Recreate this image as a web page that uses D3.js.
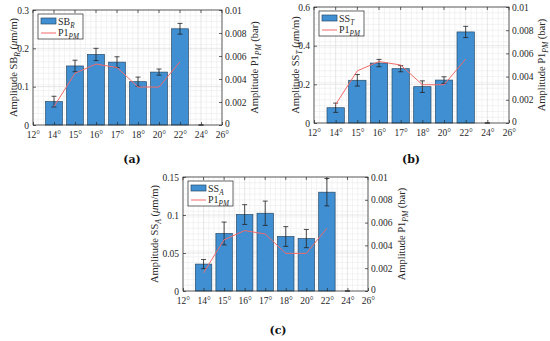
<!DOCTYPE html>
<html><head><meta charset="utf-8">
<script src="https://cdn.jsdelivr.net/npm/d3@7"></script>
<style>body{margin:0;background:#fff}svg{display:block}</style>
</head><body>
<script>
// ---- data ----
const xLabels = ["12°","14°","15°","16°","17°","18°","20°","22°","24°","26°"];
const barCats = ["14°","15°","16°","17°","18°","20°","22°","24°"];
const sbR    = [0.061,0.154,0.184,0.164,0.113,0.138,0.251,0];
const sbRErr = [0.014,0.015,0.016,0.014,0.012,0.008,0.014,0];
const ssT    = [0.079,0.221,0.310,0.281,0.188,0.222,0.471,0];
const ssTErr = [0.024,0.030,0.019,0.016,0.030,0.017,0.029,0];
const ssA    = [0.0354,0.0757,0.1006,0.1023,0.0717,0.069,0.130,0];
const ssAErr = [0.006,0.015,0.013,0.016,0.013,0.012,0.018,0];
const lineCats = ["14°","15°","16°","17°","18°","20°","22°"];
const p1pm = [0.0016,0.0045,0.0053,0.0050,0.0033,0.0033,0.0055];
const ticksA = [0,0.1,0.2,0.3];
const ticksB = [0,0.2,0.4,0.6];
const ticksC = [0,0.05,0.1,0.15];
const ticksR = [0,0.002,0.004,0.006,0.008,0.01];

const W=550,H=341;
const svg=d3.select("body").append("svg").attr("width",W).attr("height",H);
const FONT="'Liberation Serif','DejaVu Serif',serif";
const BLUE="#3f8fd2", RED="#f26b6b";

function richText(sel, parts, size){
  parts.forEach(p=>{
    const t=sel.append("tspan").text(p.t);
    if(p.i) t.attr("font-style","italic");
    if(p.sub){ t.attr("font-size",size*0.72).attr("dy",size*0.3); }
    if(p.after) t.attr("dy",-size*0.3);
  });
}
function fmt(v){ return (v===0)?"0":String(+v.toFixed(4)); }

function panel(o){
  const g=svg.append("g");
  const x=d3.scalePoint().domain(xLabels).range([o.l,o.r]);
  const y=d3.scaleLinear().domain([0,o.ymax]).range([o.b,o.t]);
  const y2=d3.scaleLinear().domain([0,0.01]).range([o.b,o.t]);
  const step=x.step();
  // minor grid
  const gv=[];
  for(let i=0;i<xLabels.length-1;i++) for(let k=1;k<4;k++) gv.push(o.l+step*(i+k/4));
  g.selectAll(".gvm").data(gv).enter().append("line")
   .attr("x1",d=>d).attr("x2",d=>d).attr("y1",o.t).attr("y2",o.b).attr("stroke","#eeeeee").attr("stroke-width",0.7);
  const gh=d3.range(1,20).map(i=>o.ymax*i/20);
  g.selectAll(".ghm").data(gh).enter().append("line")
   .attr("x1",o.l).attr("x2",o.r).attr("y1",d=>y(d)).attr("y2",d=>y(d)).attr("stroke","#eeeeee").attr("stroke-width",0.7);
  // major grid
  g.selectAll(".gv").data(xLabels).enter().append("line")
   .attr("x1",d=>x(d)).attr("x2",d=>x(d)).attr("y1",o.t).attr("y2",o.b).attr("stroke","#dddddd").attr("stroke-width",0.7);
  g.selectAll(".gh").data(o.ticks).enter().append("line")
   .attr("x1",o.l).attr("x2",o.r).attr("y1",d=>y(d)).attr("y2",d=>y(d)).attr("stroke","#dddddd").attr("stroke-width",0.7);
  // bars
  const bw=step*0.8;
  const data=barCats.map((c,i)=>({c,v:o.vals[i],e:o.errs[i]}));
  g.selectAll(".bar").data(data.filter(d=>d.v>0)).enter().append("rect")
   .attr("x",d=>x(d.c)-bw/2).attr("width",bw).attr("y",d=>y(d.v)).attr("height",d=>o.b-y(d.v))
   .attr("fill",BLUE).attr("stroke","#2a4a66").attr("stroke-width",0.7);
  // error bars
  const eb=g.selectAll(".eb").data(data).enter().append("g").attr("stroke","#222").attr("stroke-width",0.8);
  eb.append("line").attr("x1",d=>x(d.c)).attr("x2",d=>x(d.c)).attr("y1",d=>y(d.v-d.e)).attr("y2",d=>y(d.v+d.e));
  eb.append("line").attr("x1",d=>x(d.c)-2.5).attr("x2",d=>x(d.c)+2.5).attr("y1",d=>y(d.v-d.e)).attr("y2",d=>y(d.v-d.e));
  eb.append("line").attr("x1",d=>x(d.c)-2.5).attr("x2",d=>x(d.c)+2.5).attr("y1",d=>y(d.v+d.e)).attr("y2",d=>y(d.v+d.e));
  // line
  const ld=lineCats.map((c,i)=>({c,v:p1pm[i]}));
  g.append("path").datum(ld).attr("fill","none").attr("stroke",RED).attr("stroke-width",1)
   .attr("d",d3.line().x(d=>x(d.c)).y(d=>y2(d.v)));
  // axes box
  g.append("rect").attr("x",o.l).attr("y",o.t).attr("width",o.r-o.l).attr("height",o.b-o.t)
   .attr("fill","none").attr("stroke","#262626").attr("stroke-width",0.7);
  // x axis
  const ax=g.append("g").attr("transform",`translate(0,${o.b})`)
    .call(d3.axisBottom(x).tickSize(-3).tickPadding(6));
  ax.select(".domain").remove();
  ax.selectAll("line").attr("stroke","#262626").attr("stroke-width",0.7);
  ax.selectAll("text").attr("font-family",FONT).attr("font-size",9.5).attr("fill","#262626");
  // top ticks
  g.selectAll(".tt").data(xLabels).enter().append("line")
   .attr("x1",d=>x(d)).attr("x2",d=>x(d)).attr("y1",o.t).attr("y2",o.t+3).attr("stroke","#262626").attr("stroke-width",0.7);
  // left axis
  const ay=g.append("g").attr("transform",`translate(${o.l},0)`)
    .call(d3.axisLeft(y).tickValues(o.ticks).tickFormat(fmt).tickSize(-3).tickPadding(4));
  ay.select(".domain").remove();
  ay.selectAll("line").attr("stroke","#262626").attr("stroke-width",0.7);
  ay.selectAll("text").attr("font-family",FONT).attr("font-size",9.5).attr("fill","#262626");
  // right axis
  const ay2=g.append("g").attr("transform",`translate(${o.r},0)`)
    .call(d3.axisRight(y2).tickValues(ticksR).tickFormat(fmt).tickSize(-3).tickPadding(3));
  ay2.select(".domain").remove();
  ay2.selectAll("line").attr("stroke","#262626").attr("stroke-width",0.7);
  ay2.selectAll("text").attr("font-family",FONT).attr("font-size",9.5).attr("fill","#262626");
  ay2.selectAll(".tick").filter(d=>d===0).select("text").attr("dy","0.2em");
  // y labels
  const cy=(o.t+o.b)/2;
  const yl=g.append("text").attr("transform",`translate(${o.lx},${cy}) rotate(-90)`)
    .attr("text-anchor","middle").attr("font-family",FONT).attr("font-size",10.5).attr("fill","#262626");
  richText(yl,[{t:"Amplitude "+o.name},{t:o.sub,i:true,sub:true},{t:" (",after:true},{t:"μ",i:true},{t:"m/m)"}],10.5);
  const yr=g.append("text").attr("transform",`translate(${o.rx},${cy}) rotate(-90)`)
    .attr("text-anchor","middle").attr("font-family",FONT).attr("font-size",10.5).attr("fill","#262626");
  richText(yr,[{t:"Amplitude P1"},{t:"PM",i:true,sub:true},{t:" (bar)",after:true}],10.5);
  // legend
  const lg=g.append("g").attr("transform",`translate(${o.l+5},${o.t+4})`);
  lg.append("rect").attr("width",45).attr("height",25).attr("fill","#fff").attr("stroke","#262626").attr("stroke-width",0.7);
  lg.append("rect").attr("x",3).attr("y",4).attr("width",15).attr("height",6).attr("fill",BLUE).attr("stroke","#2a4a66").attr("stroke-width",0.7);
  lg.append("line").attr("x1",3).attr("x2",18).attr("y1",19).attr("y2",19).attr("stroke",RED).attr("stroke-width",1);
  const t1=lg.append("text").attr("x",20).attr("y",10.5).attr("font-family",FONT).attr("font-size",10).attr("fill","#262626");
  richText(t1,[{t:o.name},{t:o.sub,i:true,sub:true}],10);
  const t2=lg.append("text").attr("x",20).attr("y",22).attr("font-family",FONT).attr("font-size",10).attr("fill","#262626");
  richText(t2,[{t:"P1"},{t:"PM",i:true,sub:true}],10);
  // caption
  svg.append("text").attr("x",o.cx).attr("y",o.cyy).attr("text-anchor","middle")
    .attr("font-family","'DejaVu Serif',serif").attr("font-weight","bold").attr("font-size",11).attr("fill","#111").text(o.cap);
}

panel({l:33,r:222,t:10,b:125,ymax:0.3,ticks:ticksA,vals:sbR,errs:sbRErr,name:"SB",sub:"R",lx:17,rx:258,cap:"(a)",cx:132,cyy:163});
panel({l:314,r:509,t:7,b:123,ymax:0.6,ticks:ticksB,vals:ssT,errs:ssTErr,name:"SS",sub:"T",lx:299,rx:545,cap:"(b)",cx:411,cyy:163});
panel({l:183,r:368,t:177,b:291,ymax:0.15,ticks:ticksC,vals:ssA,errs:ssAErr,name:"SS",sub:"A",lx:158,rx:405,cap:"(c)",cx:278,cyy:334});
</script>
</body></html>
